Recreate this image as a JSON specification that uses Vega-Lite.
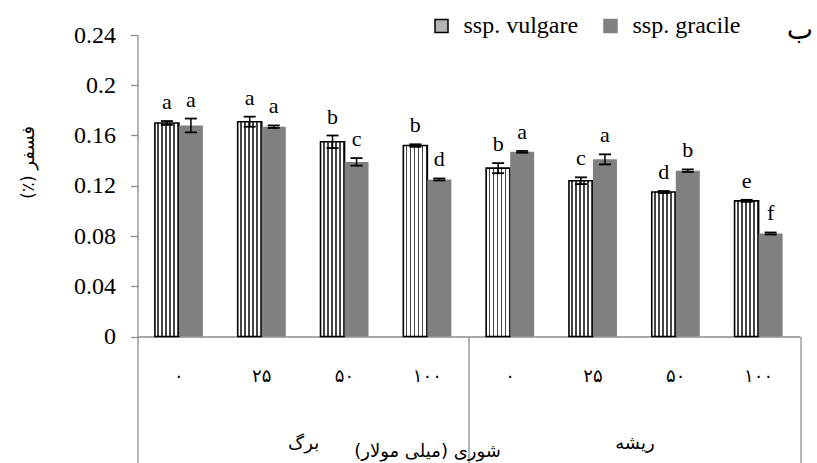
{
  "$schema": "https://vega.github.io/schema/vega-lite/v6.json",
  "width": 662.5,
  "height": 301.5,
  "autosize": {"type": "none"},
  "padding": {"left": 137.5, "top": 35, "right": 17, "bottom": 126.5},
  "background": "white",
  "config": {
    "view": {"stroke": null},
    "axis": {"grid": false, "labelColor": "#000000", "titleColor": "#000000", "domainColor": "#8c8c8c", "tickColor": "#8c8c8c", "titleFontWeight": "normal", "domainWidth": 1.3, "tickWidth": 1.3},
    "legend": {"labelFont": "Liberation Serif", "labelFontSize": 24, "labelColor": "#000000", "symbolType": "square", "symbolSize": 169, "symbolStrokeWidth": 1.5, "labelOffset": 10, "columnPadding": 20, "padding": 0}
  },
  "title": {"text": "ب", "anchor": "end", "frame": "group", "font": "DejaVu Sans", "fontSize": 28, "fontWeight": "normal", "color": "#000000", "dx": 13, "baseline": "alphabetic", "offset": 0, "dy": 53},
  "data": {
    "values": [
      {"organ": "برگ", "key": "برگ|۰", "subsp": "ssp. vulgare", "value": 0.170, "lo": 0.1685, "hi": 0.1715, "letter": "a"},
      {"organ": "برگ", "key": "برگ|۰", "subsp": "ssp. gracile", "value": 0.168, "lo": 0.1625, "hi": 0.1735, "letter": "a"},
      {"organ": "برگ", "key": "برگ|۲۵", "subsp": "ssp. vulgare", "value": 0.171, "lo": 0.167, "hi": 0.175, "letter": "a"},
      {"organ": "برگ", "key": "برگ|۲۵", "subsp": "ssp. gracile", "value": 0.167, "lo": 0.166, "hi": 0.168, "letter": "a"},
      {"organ": "برگ", "key": "برگ|۵۰", "subsp": "ssp. vulgare", "value": 0.155, "lo": 0.150, "hi": 0.160, "letter": "b"},
      {"organ": "برگ", "key": "برگ|۵۰", "subsp": "ssp. gracile", "value": 0.139, "lo": 0.136, "hi": 0.142, "letter": "c"},
      {"organ": "برگ", "key": "برگ|۱۰۰", "subsp": "ssp. vulgare", "value": 0.152, "lo": 0.151, "hi": 0.153, "letter": "b"},
      {"organ": "برگ", "key": "برگ|۱۰۰", "subsp": "ssp. gracile", "value": 0.125, "lo": 0.1242, "hi": 0.1258, "letter": "d"},
      {"organ": "ریشه", "key": "ریشه|۰", "subsp": "ssp. vulgare", "value": 0.134, "lo": 0.130, "hi": 0.138, "letter": "b"},
      {"organ": "ریشه", "key": "ریشه|۰", "subsp": "ssp. gracile", "value": 0.147, "lo": 0.1463, "hi": 0.1477, "letter": "a"},
      {"organ": "ریشه", "key": "ریشه|۲۵", "subsp": "ssp. vulgare", "value": 0.124, "lo": 0.1213, "hi": 0.1267, "letter": "c"},
      {"organ": "ریشه", "key": "ریشه|۲۵", "subsp": "ssp. gracile", "value": 0.141, "lo": 0.137, "hi": 0.145, "letter": "a"},
      {"organ": "ریشه", "key": "ریشه|۵۰", "subsp": "ssp. vulgare", "value": 0.115, "lo": 0.1142, "hi": 0.1158, "letter": "d"},
      {"organ": "ریشه", "key": "ریشه|۵۰", "subsp": "ssp. gracile", "value": 0.132, "lo": 0.131, "hi": 0.133, "letter": "b"},
      {"organ": "ریشه", "key": "ریشه|۱۰۰", "subsp": "ssp. vulgare", "value": 0.108, "lo": 0.1072, "hi": 0.1088, "letter": "e"},
      {"organ": "ریشه", "key": "ریشه|۱۰۰", "subsp": "ssp. gracile", "value": 0.082, "lo": 0.0812, "hi": 0.0828, "letter": "f"}
    ]
  },
  "layer": [
    {
      "encoding": {
        "x": {
          "field": "key", "type": "nominal",
          "sort": ["برگ|۰", "برگ|۲۵", "برگ|۵۰", "برگ|۱۰۰", "ریشه|۰", "ریشه|۲۵", "ریشه|۵۰", "ریشه|۱۰۰"],
          "scale": {"paddingInner": 0.42, "paddingOuter": 0.21},
          "axis": {"orient": "bottom", "title": null, "ticks": false, "domain": true, "labelAngle": 0, "labelExpr": "split(datum.value, '|')[1]", "labelFont": "DejaVu Sans", "labelFontSize": 18, "labelBaseline": "middle", "labelPadding": 40}
        },
        "xOffset": {"field": "subsp", "type": "nominal", "sort": ["ssp. vulgare", "ssp. gracile"], "scale": {"paddingInner": 0, "paddingOuter": 0}},
        "y": {
          "field": "value", "type": "quantitative",
          "scale": {"domain": [0, 0.24], "nice": false},
          "axis": {"title": "\u202bفسفر (٪)\u202c", "titleFont": "DejaVu Sans", "titleFontSize": 18, "titleX": -109.5, "titleY": 127, "titleAngle": -90, "titleAlign": "center", "titleBaseline": "middle", "values": [0, 0.04, 0.08, 0.12, 0.16, 0.2, 0.24], "format": ".2~f", "labelFont": "Liberation Serif", "labelFontSize": 24, "tickSize": 7, "labelPadding": 15}
        }
      },
      "layer": [
        {
          "mark": {"type": "bar"},
          "encoding": {
            "fill": {
              "field": "subsp", "type": "nominal",
              "scale": {"domain": ["ssp. vulgare", "ssp. gracile"], "range": ["#b4b4b4", "#808080"]},
              "condition": {
                "test": "datum.subsp === 'ssp. vulgare'",
                "value": {"gradient": "linear", "x1": 0, "y1": 0, "x2": 1, "y2": 0, "stops": [
                  {"offset": 0, "color": "#ffffff"}, {"offset": 0.1, "color": "#ffffff"}, {"offset": 0.1, "color": "#444444"}, {"offset": 0.167, "color": "#444444"},
                  {"offset": 0.167, "color": "#ffffff"}, {"offset": 0.267, "color": "#ffffff"}, {"offset": 0.267, "color": "#444444"}, {"offset": 0.333, "color": "#444444"},
                  {"offset": 0.333, "color": "#ffffff"}, {"offset": 0.433, "color": "#ffffff"}, {"offset": 0.433, "color": "#444444"}, {"offset": 0.5, "color": "#444444"},
                  {"offset": 0.5, "color": "#ffffff"}, {"offset": 0.6, "color": "#ffffff"}, {"offset": 0.6, "color": "#444444"}, {"offset": 0.667, "color": "#444444"},
                  {"offset": 0.667, "color": "#ffffff"}, {"offset": 0.767, "color": "#ffffff"}, {"offset": 0.767, "color": "#444444"}, {"offset": 0.833, "color": "#444444"},
                  {"offset": 0.833, "color": "#ffffff"}, {"offset": 0.933, "color": "#ffffff"}, {"offset": 0.933, "color": "#444444"}, {"offset": 1, "color": "#444444"}
                ]}
              },
              "legend": {"orient": "none", "legendX": 292, "legendY": -21, "direction": "horizontal", "title": null, "labelFont": "Liberation Serif", "labelFontSize": 24}
            },
            "stroke": {
              "field": "subsp", "type": "nominal",
              "scale": {"domain": ["ssp. vulgare", "ssp. gracile"], "range": ["#000000", "#808080"]},
              "legend": {"orient": "none", "legendX": 292, "legendY": -21, "direction": "horizontal", "title": null, "labelFont": "Liberation Serif", "labelFontSize": 24}
            },
            "strokeWidth": {"condition": {"test": "datum.subsp === 'ssp. vulgare'", "value": 1.6}, "value": 0}
          }
        },
        {
          "mark": {"type": "rule", "color": "#000000", "strokeWidth": 1.5},
          "encoding": {"y": {"field": "lo", "type": "quantitative"}, "y2": {"field": "hi"}}
        },
        {
          "mark": {"type": "tick", "orient": "horizontal", "size": 12, "thickness": 1.8, "color": "#000000", "opacity": 1},
          "encoding": {"y": {"field": "lo", "type": "quantitative"}}
        },
        {
          "mark": {"type": "tick", "orient": "horizontal", "size": 12, "thickness": 1.8, "color": "#000000", "opacity": 1},
          "encoding": {"y": {"field": "hi", "type": "quantitative"}}
        },
        {
          "mark": {"type": "text", "font": "Liberation Serif", "fontSize": 22, "baseline": "alphabetic", "dy": -12, "color": "#000000"},
          "encoding": {"y": {"field": "hi", "type": "quantitative"}, "text": {"field": "letter"}}
        }
      ]
    },
    {
      "mark": {"type": "point", "opacity": 0},
      "encoding": {
        "x": {
          "field": "organ", "type": "nominal", "sort": ["برگ", "ریشه"],
          "scale": {"type": "band", "paddingInner": 0, "paddingOuter": 0},
          "axis": {"orient": "bottom", "domain": false, "ticks": true, "tickBand": "extent", "tickSize": 127, "labelAngle": 0, "labelFont": "DejaVu Sans", "labelFontSize": 18, "labelBaseline": "middle", "labelPadding": -20,
            "title": "\u202bشوری (میلی مولار)\u202c", "titleFont": "DejaVu Sans", "titleFontSize": 18, "titleX": 289.5, "titleY": 114.5, "titleAlign": "center", "titleBaseline": "middle"}
        },
        "y": {"field": "value", "type": "quantitative"}
      }
    }
  ],
  "resolve": {"scale": {"x": "independent"}, "axis": {"x": "independent"}}
}
